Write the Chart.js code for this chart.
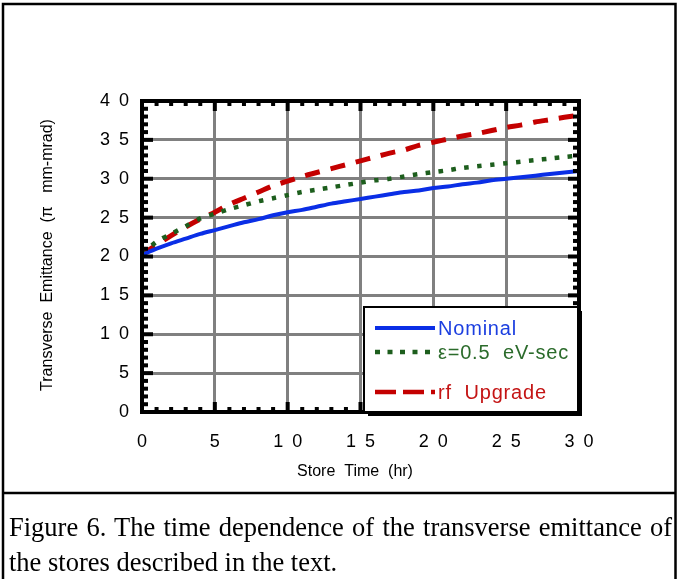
<!DOCTYPE html>
<html>
<head>
<meta charset="utf-8">
<script src="https://cdn.jsdelivr.net/npm/chart.js@4/dist/chart.umd.min.js"></script>
<style>
  body { margin: 0; background: #fff; }
  #page { position: relative; width: 682px; height: 579px; overflow: hidden; }
  #chart { position: absolute; left: 0; top: 0; }
  #caption {
    position: absolute; left: 9px; top: 510px; width: 663px;
    font-family: "Liberation Serif", "Times New Roman", serif;
    font-size: 26.5px; line-height: 35px; color: #000;
  }
  #caption .l1 { text-align: justify; text-align-last: justify; white-space: nowrap; }
  #caption .l2 { white-space: nowrap; }
</style>
</head>
<body>
<div id="page">
  <canvas id="chart" width="682" height="579"></canvas>
  <div id="caption">
    <div class="l1">Figure 6. The time dependence of the transverse emittance of</div>
    <div class="l2">the stores described in the text.</div>
  </div>
</div>
<script>
// store time in hours, one reading per hour
var hours = [0, 1, 2, 3, 4, 5, 6, 7, 8, 9, 10, 11, 12, 13, 14, 15, 16, 17, 18, 19, 20,
             21, 22, 23, 24, 25, 26, 27, 28, 29, 30];
// transverse emittance (pi mm-mrad)
var nominal = [20.2, 21.0, 21.7, 22.3, 22.9, 23.4, 23.9, 24.4, 24.8, 25.3, 25.7,
               26.0, 26.4, 26.8, 27.1, 27.4, 27.7, 28.0, 28.3, 28.5, 28.8,
               29.0, 29.3, 29.5, 29.8, 30.0, 30.2, 30.4, 30.6, 30.8, 31.0];
var eps05 = [20.3, 21.9, 22.9, 23.9, 24.9, 25.5, 26.1, 26.6, 27.1, 27.5, 27.9,
             28.3, 28.6, 28.9, 29.2, 29.5, 29.8, 30.0, 30.3, 30.6, 30.85,
             31.1, 31.4, 31.6, 31.8, 32.0, 32.2, 32.4, 32.6, 32.8, 33.0];
var rfUpgrade = [20.3, 21.5, 22.7, 23.8, 24.8, 25.7, 26.7, 27.5, 28.3, 29.1, 29.7,
                 30.3, 30.8, 31.3, 31.8, 32.3, 32.8, 33.3, 33.7, 34.3, 34.7,
                 35.1, 35.5, 35.8, 36.2, 36.6, 36.9, 37.3, 37.6, 37.9, 38.2];
var seriesNames = ["Nominal", "\u03b5=0.5  eV-sec", "rf  Upgrade"];
var xTitle = "Store  Time  (hr)";
var yTitle = "Transverse  Emittance  (\u03c0   mm-mrad)";

var SANS = "'Liberation Sans', Arial, Helvetica, sans-serif";

function zip(xs, ys) {
	var out = [];
	for (var i = 0; i < xs.length; i++) {
		out.push({ x: xs[i], y: ys[i] });
	}
	return out;
}

// digits of the tick labels are set apart, like the old plot
function spaced(v) {
	return String(v).split('').join('\u2002');
}

// white page, outer frame, the rule above the caption
var framePlugin = {
	id: 'frame',
	beforeDraw: function(chart) {
		var ctx = chart.ctx;
		ctx.save();
		ctx.fillStyle = '#fff';
		ctx.fillRect(0, 0, chart.width, chart.height);
		ctx.strokeStyle = '#000';
		ctx.lineWidth = 2.5;
		ctx.beginPath();
		ctx.moveTo(3, 579);
		ctx.lineTo(3, 4);
		ctx.lineTo(675.5, 4);
		ctx.lineTo(675.5, 579);
		ctx.moveTo(3, 493);
		ctx.lineTo(675.5, 493);
		ctx.stroke();
		ctx.restore();
	}
};

// box round the plot with inward ticks on every side, titles, and the legend
var axesPlugin = {
	id: 'axesBox',
	afterDatasetsDraw: function(chart) {
		var ctx = chart.ctx;
		var a = chart.chartArea;
		var xs = chart.scales.x, ys = chart.scales.y;
		ctx.save();
		ctx.fillStyle = '#000';
		var v, p, len;
		for (v = 0; v <= 30; v++) {
			p = xs.getPixelForValue(v);
			len = (v % 5 === 0) ? 10 : 5;
			ctx.fillRect(p - 2, a.bottom - len, 4, len);
			ctx.fillRect(p - 2, a.top, 4, len);
		}
		for (v = 0; v <= 40; v++) {
			p = ys.getPixelForValue(v);
			len = (v % 5 === 0) ? 11 : 6;
			ctx.fillRect(a.left, p - 2, len, 4);
			ctx.fillRect(a.right - len, p - 2, len, 4);
		}
		ctx.strokeStyle = '#000';
		ctx.lineWidth = 4;
		ctx.strokeRect(a.left, a.top, a.right - a.left, a.bottom - a.top);

		// axis titles
		ctx.font = '16px ' + SANS;
		ctx.textAlign = 'center';
		ctx.textBaseline = 'middle';
		ctx.fillText(xTitle, 355, 472);
		ctx.translate(48, 255);
		ctx.rotate(-Math.PI / 2);
		ctx.fillText(yTitle, 0, 0);
		ctx.restore();

		// legend box with a drop shadow
		var bx = 364, by = 307, bw = 214, bh = 105;
		ctx.save();
		ctx.fillStyle = '#000';
		ctx.fillRect(bx + 4, by + 4, bw, bh);
		ctx.fillStyle = '#fff';
		ctx.fillRect(bx, by, bw, bh);
		ctx.strokeStyle = '#000';
		ctx.lineWidth = 2;
		ctx.strokeRect(bx, by, bw, bh);

		var rows = [328, 352, 392];
		var dashes = [[], [5, 7.5], [21, 7]];
		var textColors = ['#1c3fe0', '#2b6b2b', '#c41414'];
		ctx.font = '20px ' + SANS;
		ctx.textAlign = 'left';
		ctx.textBaseline = 'middle';
		if ('letterSpacing' in ctx) ctx.letterSpacing = '0.8px';
		chart.data.datasets.forEach(function(ds, i) {
			ctx.strokeStyle = ds.borderColor;
			ctx.lineWidth = i === 0 ? 4 : 4.5;
			ctx.setLineDash(dashes[i]);
			ctx.beginPath();
			ctx.moveTo(375, rows[i]);
			ctx.lineTo(435, rows[i]);
			ctx.stroke();
			ctx.setLineDash([]);
			ctx.fillStyle = textColors[i];
			ctx.fillText(ds.label, 438, rows[i] + 1);
		});
		ctx.restore();
	}
};

var ctx = document.getElementById('chart').getContext('2d');
var chart = new Chart(ctx, {
	type: 'line',
	data: {
		datasets: [
			{
				label: seriesNames[0],
				data: zip(hours, nominal),
				borderColor: '#0a2ee6',
				borderWidth: 4
			},
			{
				label: seriesNames[1],
				data: zip(hours, eps05),
				borderColor: '#1d5e1d',
				borderWidth: 4.5,
				borderDash: [4.5, 8.5]
			},
			{
				label: seriesNames[2],
				data: zip(hours, rfUpgrade),
				borderColor: '#c40000',
				borderWidth: 5,
				borderDash: [15, 11]
			}
		]
	},
	options: {
		responsive: false,
		animation: false,
		devicePixelRatio: 1,
		layout: { padding: { left: 0, top: 101, right: 103, bottom: 127 } },
		elements: {
			point: { radius: 0 },
			line: { tension: 0.3, borderCapStyle: 'butt', fill: false }
		},
		plugins: {
			legend: { display: false },
			tooltip: { enabled: false }
		},
		scales: {
			x: {
				type: 'linear',
				min: 0,
				max: 30,
				afterFit: function(s) { s.height = 40; },
				ticks: {
					stepSize: 5,
					callback: spaced,
					color: '#000',
					padding: 19,
					maxRotation: 0,
					font: { family: SANS, size: 18 }
				},
				grid: { color: '#808080', lineWidth: 3, drawTicks: false },
				border: { display: false }
			},
			y: {
				type: 'linear',
				min: 0,
				max: 40,
				afterFit: function(s) { s.width = 142; },
				ticks: {
					stepSize: 5,
					callback: spaced,
					color: '#000',
					padding: 13,
					font: { family: SANS, size: 18 }
				},
				grid: { color: '#808080', lineWidth: 3, drawTicks: false },
				border: { display: false }
			}
		}
	},
	plugins: [framePlugin, axesPlugin]
});
</script>
</body>
</html>
